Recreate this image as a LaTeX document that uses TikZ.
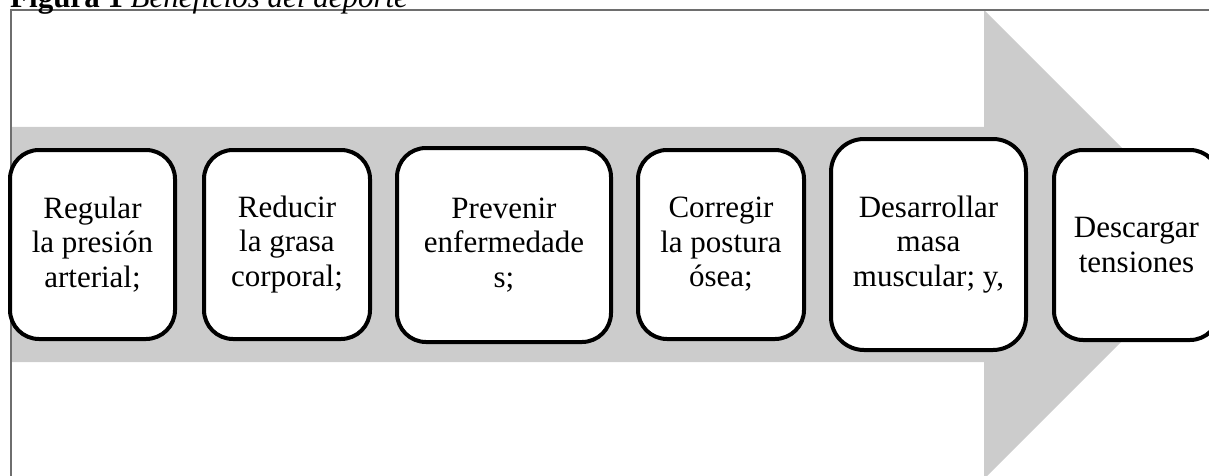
\documentclass[tikz,border=0pt]{standalone}
\usepackage{fontspec}
\setmainfont{Liberation Serif}
\definecolor{arrowgray}{RGB}{204,204,204}
\definecolor{framegray}{RGB}{110,110,110}
\tikzset{
  benefit/.style={draw=black, line width=4pt, fill=white, rounded corners=29pt,
    inner sep=0pt, align=center, font=\fontsize{31}{34.5}\selectfont},
}
\begin{document}
\begin{tikzpicture}[x=1pt,y=-1pt]
\useasboundingbox (0,0) rectangle (1209,476);
\clip (0,0) rectangle (1209,476);
% big background arrow
\fill[arrowgray] (10,127) -- (984,127) -- (984,10) -- (1218.5,244.5) -- (984,479) -- (984,362) -- (10,362) -- cycle;
% frame
\draw[framegray, line width=2pt] (10.5,480) -- (10.5,10.5) -- (1215,10.5);
% caption
\node[anchor=base west, inner sep=0pt, font=\fontsize{31}{34.5}\selectfont] (cap) at (10,7.5) {\textbf{Figura 1} \textit{Beneficios del deporte}};
% boxes
\node[benefit, minimum width=165pt, minimum height=189pt] (b1) at (92.5,244.5) {Regular\\la presión\\arterial;};
\node[benefit, minimum width=166pt, minimum height=189pt] (b2) at (287,244.5) {Reducir\\la grasa\\corporal;};
\node[benefit, minimum width=214pt, minimum height=194pt] (b3) at (504,245) {Prevenir\\enfermedade\\s;};
\node[benefit, minimum width=166pt, minimum height=189pt] (b4) at (721,244.5) {Corregir\\la postura\\ósea;};
\node[benefit, minimum width=195pt, minimum height=211pt, rounded corners=33pt] (b5) at (928.5,244.5) {Desarrollar\\masa\\muscular; y,};
\node[benefit, minimum width=165pt, minimum height=190pt] (b6) at (1136.5,245) {Descargar\\tensiones};
\end{tikzpicture}
\end{document}
